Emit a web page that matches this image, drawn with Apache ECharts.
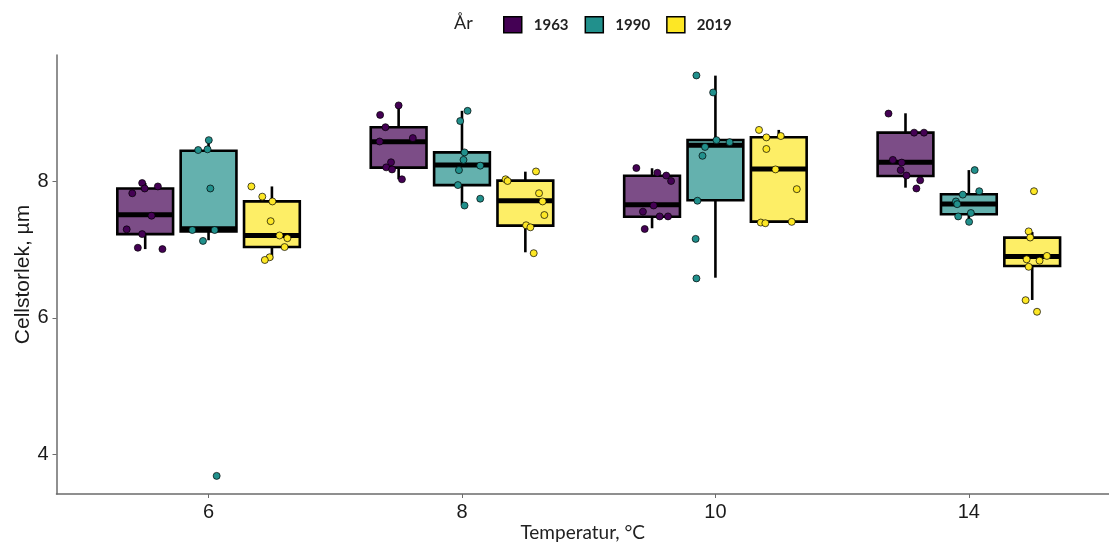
<!DOCTYPE html>
<html><head><meta charset="utf-8">
<script src="https://cdn.jsdelivr.net/npm/echarts@6/dist/echarts.min.js"></script>
<style>html,body{margin:0;padding:0;background:#fff}#c{width:1109px;height:544px}</style>
</head><body><div id="c"></div>
<script>
// ---------- DATA ----------
const categories = ['6', '8', '10', '14'];
const years = ['1963', '1990', '2019'];
const yTickValues = [4, 6, 8];

// Box statistics per temperature: [lower whisker, Q1, median, Q3, upper whisker]
const box1963 = [[7.01, 7.23, 7.515, 7.90, 7.98], [8.035, 8.206, 8.587, 8.80, 9.116], [7.316, 7.486, 7.662, 8.088, 8.197], [7.912, 8.084, 8.285, 8.72, 9.004]];
const box1990 = [[7.14, 7.27, 7.31, 8.455, 8.61], [7.66, 7.95, 8.245, 8.43, 9.04], [6.59, 7.727, 8.534, 8.612, 9.557], [7.41, 7.521, 7.673, 7.815, 8.17]];
const box2019 = [[6.86, 7.04, 7.21, 7.71, 7.93], [6.963, 7.354, 7.72, 8.015, 8.147], [7.41, 7.413, 8.186, 8.652, 8.76], [6.263, 6.762, 6.90, 7.178, 7.26]];

// Individual observations per temperature
const pts1963 = [[7.98, 7.90, 7.93, 7.83, 7.50, 7.30, 7.23, 7.03, 7.01], [9.12, 8.98, 8.80, 8.59, 8.64, 8.285, 8.21, 8.18, 8.035], [8.20, 8.13, 8.09, 8.01, 7.65, 7.56, 7.49, 7.49, 7.305], [9.00, 8.72, 8.72, 8.32, 8.28, 8.17, 8.09, 8.02, 7.90]];
const pts1990 = [[8.61, 8.465, 8.475, 7.90, 7.29, 7.29, 7.13, 3.68], [9.04, 8.89, 8.43, 8.32, 8.235, 8.17, 7.95, 7.75, 7.65], [9.56, 9.31, 8.61, 8.58, 8.51, 8.38, 7.72, 7.16, 6.58], [8.17, 7.81, 7.86, 7.71, 7.67, 7.54, 7.49, 7.41]];
const pts2019 = [[7.93, 7.78, 7.71, 7.42, 7.21, 7.17, 7.04, 6.89, 6.85], [8.15, 8.035, 8.01, 7.83, 7.71, 7.51, 7.36, 7.33, 6.95], [8.76, 8.65, 8.67, 8.48, 8.18, 7.89, 7.40, 7.39, 7.41], [7.86, 7.27, 7.18, 6.91, 6.86, 6.84, 6.75, 6.26, 6.09]];

// Horizontal jitter of each observation (fraction of a category)
const jit1963 = [[-0.012, -0.002, 0.050, -0.051, 0.025, -0.073, -0.012, -0.029, 0.068], [0, -0.073, -0.052, -0.075, 0.056, -0.030, -0.049, -0.026, 0.013], [-0.062, 0.021, 0.056, 0.075, 0.006, -0.036, 0.030, 0.063, -0.029], [-0.067, 0.034, 0.073, -0.050, -0.015, -0.019, 0.004, 0.058, 0.043]];
const jit1990 = [[0.001, -0.041, -0.004, 0.007, -0.064, 0.024, -0.022, 0.032], [0.022, -0.007, 0.010, 0.006, 0.072, -0.012, -0.016, 0.072, 0.010], [-0.075, -0.009, 0.004, 0.056, -0.041, -0.051, -0.071, -0.078, -0.075], [0.023, -0.024, 0.041, -0.051, -0.046, 0.008, -0.042, 0.001]];
const jit2019 = [[-0.081, -0.038, 0.002, -0.005, 0.030, 0.061, 0.050, -0.009, -0.028], [0.042, -0.078, -0.070, 0.054, 0.068, 0.075, 0.003, 0.020, 0.033], [-0.078, -0.049, 0.008, -0.049, -0.013, 0.071, -0.071, -0.053, 0.051], [0.007, -0.014, -0.008, 0.058, -0.022, 0.029, -0.014, -0.026, 0.019]];

// ---------- STYLE / LAYOUT ----------
const pointColors = ['#440154', '#21908C', '#FDE725'];
const boxFills = ['#7c4d87', '#64b1ae', '#fdee66'];
const dodge = [-0.25, 0, 0.25];
const BOX_W = 0.22;
const boxes = [box1963, box1990, box2019];
const pts = [pts1963, pts1990, pts2019];
const jits = [jit1963, jit1990, jit2019];
const ARIAL = 'Arial, "Liberation Sans", sans-serif';
const CAL = 'Lato, "Open Sans", sans-serif';

function makeRender(offset, fill) {
  return function (params, api) {
    const x = api.value(0) + offset;
    const low = api.coord([x, api.value(1)]);
    const q1 = api.coord([x, api.value(2)]);
    const med = api.coord([x, api.value(3)]);
    const q3 = api.coord([x, api.value(4)]);
    const high = api.coord([x, api.value(5)]);
    const w = api.size([BOX_W, 0])[0];
    const cx = q1[0];
    const lw = 2.6;
    return {
      type: 'group',
      children: [
        { type: 'line', shape: { x1: cx, y1: high[1], x2: cx, y2: q3[1] }, style: { stroke: '#000', lineWidth: lw } },
        { type: 'line', shape: { x1: cx, y1: q1[1], x2: cx, y2: low[1] }, style: { stroke: '#000', lineWidth: lw } },
        { type: 'rect', shape: { x: cx - w / 2, y: q3[1], width: w, height: q1[1] - q3[1] }, style: { fill: fill, stroke: '#000', lineWidth: lw } },
        { type: 'line', shape: { x1: cx - w / 2, y1: med[1], x2: cx + w / 2, y2: med[1] }, style: { stroke: '#000', lineWidth: 5 } }
      ]
    };
  };
}

const series = [];
years.forEach((yr, k) => {
  series.push({
    name: yr,
    type: 'custom',
    renderItem: makeRender(dodge[k], boxFills[k]),
    itemStyle: { color: pointColors[k] },
    encode: { x: 0, y: [1, 2, 3, 4, 5] },
    data: boxes[k].map((b, i) => [i].concat(b)),
    z: 2,
    clip: false
  });
});
years.forEach((yr, k) => {
  const data = [];
  pts[k].forEach((arr, i) => arr.forEach((v, j) => data.push([i + dodge[k] + jits[k][i][j], v])));
  series.push({
    name: yr,
    type: 'scatter',
    data: data,
    symbolSize: 7,
    itemStyle: { color: pointColors[k], borderColor: '#000', borderWidth: 0.7, opacity: 1 },
    z: 5
  });
});

const chart = echarts.init(document.getElementById('c'), null, { renderer: 'canvas' });
chart.setOption({
  animation: false,
  backgroundColor: '#fff',
  title: {
    text: 'År', left: 449, top: 9,
    textStyle: { fontFamily: CAL, fontSize: 18, fontWeight: 'normal', color: '#222' }
  },
  legend: {
    data: years,
    left: 498, top: 11,
    itemWidth: 18, itemHeight: 16, itemGap: 16,
    icon: 'rect',
    itemStyle: { borderColor: '#000', borderWidth: 1.5 },
    textStyle: { fontFamily: CAL, fontSize: 15, fontWeight: 'bold', color: '#222', padding: [0, 0, 0, 7] }
  },
  grid: { left: 56.5, right: 0, top: 55, bottom: 50, containLabel: false, outerBoundsMode: 'none' },
  xAxis: {
    type: 'value', min: -0.6, max: 3.553,
    name: 'Temperatur, °C', nameLocation: 'middle', nameGap: 29, nameMoveOverlap: false,
    nameTextStyle: { fontFamily: CAL, fontSize: 19, color: '#222' },
    axisLine: { show: true, onZero: false, lineStyle: { color: '#6b6b6b', width: 1.5 } },
    axisTick: { show: true, length: 4, lineStyle: { color: '#6b6b6b' }, customValues: [0, 1, 2, 3] },
    axisLabel: {
      customValues: [0, 1, 2, 3], margin: 8,
      formatter: v => categories[Math.round(v)],
      fontFamily: ARIAL, fontSize: 20, color: '#1a1a1a'
    },
    splitLine: { show: false }
  },
  yAxis: {
    type: 'value', min: 3.414, max: 9.86,
    name: 'Cellstorlek, µm', nameLocation: 'middle', nameGap: 23, nameRotate: 90, nameMoveOverlap: false,
    nameTextStyle: { fontFamily: ARIAL, fontSize: 21, color: '#1a1a1a' },
    axisLine: { show: true, onZero: false, lineStyle: { color: '#6b6b6b', width: 1.5 } },
    axisTick: { show: true, length: 4, lineStyle: { color: '#6b6b6b' }, customValues: yTickValues },
    axisLabel: { customValues: yTickValues, margin: 8, fontFamily: ARIAL, fontSize: 20, color: '#1a1a1a' },
    splitLine: { show: false }
  },
  series: series
});
</script></body></html>
